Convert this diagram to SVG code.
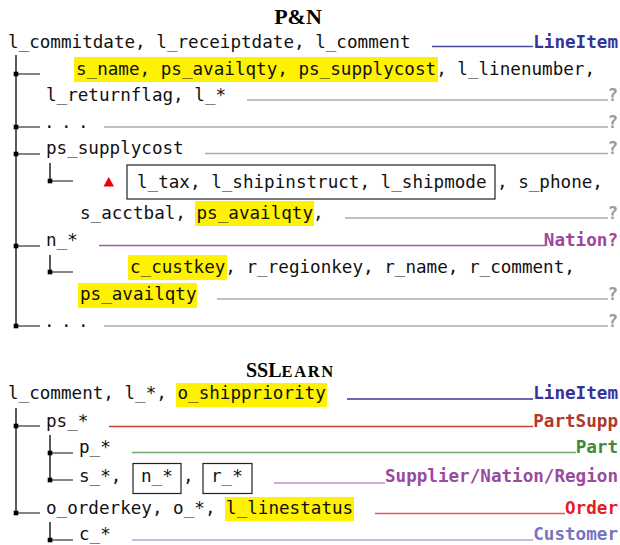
<svg xmlns="http://www.w3.org/2000/svg" width="620" height="545" viewBox="0 0 620 545">
  <style>
    .title { font-family: "Liberation Serif", "Times New Roman", serif; font-weight: bold; fill: #000; }
    .t { font-family: "DejaVu Sans Mono", "Liberation Mono", monospace; font-size: 17.6px; fill: #111; }
    .lbl { font-family: "DejaVu Sans Mono", "Liberation Mono", monospace; font-size: 17.6px; font-weight: bold; text-anchor: end; }
    .hl { fill: #fff200; }
    .box { fill: none; stroke: #222; stroke-width: 1.2; }
    .tree { stroke: #000; stroke-width: 1.3; fill: none; }
    .br { stroke: #222; stroke-width: 1.1; fill: none; }
    .dot { fill: #000; }
    .ln { stroke-width: 1.3; fill: none; }
    .gray { stroke: #aaaaaa; }
    .q { fill: #9a9a9a; }
  </style>

  <!-- ===== P&N ===== -->
  <text class="title" x="298" y="24" font-size="22" text-anchor="middle">P&amp;N</text>

  <g id="pn-root">
    <text class="t" x="8" y="48">l_commitdate, l_receiptdate, l_comment</text>
    <text class="lbl" x="618" y="48" fill="#34349a">LineItem</text>
  </g>

  <g id="pn-tree">
    <line class="tree" x1="16" y1="55" x2="16" y2="327"/>
    <line class="br" x1="16" y1="74" x2="40" y2="74"/>
    <rect class="dot" x="13.7" y="71.7" width="4.6" height="4.6"/>
    <line class="br" x1="16" y1="127" x2="40" y2="127"/>
    <rect class="dot" x="13.7" y="124.7" width="4.6" height="4.6"/>
    <line class="br" x1="16" y1="154" x2="40" y2="154"/>
    <rect class="dot" x="13.7" y="151.7" width="4.6" height="4.6"/>
    <line class="br" x1="16" y1="246" x2="40" y2="246"/>
    <rect class="dot" x="13.7" y="243.7" width="4.6" height="4.6"/>
    <line class="br" x1="16" y1="326" x2="40" y2="326"/>
    <rect class="dot" x="13.7" y="323.7" width="4.6" height="4.6"/>
    <!-- sub-branches -->
    <line class="tree" x1="50" y1="163" x2="50" y2="181"/>
    <line class="br" x1="50" y1="181" x2="73" y2="181"/>
    <rect class="dot" x="47.7" y="178.7" width="4.6" height="4.6"/>
    <line class="tree" x1="50" y1="255" x2="50" y2="272"/>
    <line class="br" x1="50" y1="272" x2="73" y2="272"/>
    <rect class="dot" x="47.7" y="269.7" width="4.6" height="4.6"/>
  </g>

  <g id="pn-lineitem">
    <rect class="hl" x="74" y="57" width="364" height="25"/>
    <text class="t" x="76" y="75">s_name, ps_availqty, ps_supplycost, l_linenumber,</text>
    <text class="t" x="46" y="101">l_returnflag, l_*</text>
    <text class="lbl q" x="618" y="101">?</text>
  </g>

  <g id="pn-dots-1">
    <text class="t" x="44" y="128" letter-spacing="6.4">...</text>
    <text class="lbl q" x="618" y="128">?</text>
  </g>

  <g id="pn-supplycost">
    <text class="t" x="46" y="154">ps_supplycost</text>
    <text class="lbl q" x="618" y="154">?</text>
  </g>

  <g id="pn-tax">
    <polygon points="103.5,186.5 114,186.5 108.7,177" fill="#ee0000"/>
    <rect class="box" x="127" y="165" width="368" height="34"/>
    <text class="t" x="137" y="188">l_tax, l_shipinstruct, l_shipmode</text>
    <text class="t" x="497" y="188">, s_phone,</text>
    <rect class="hl" x="195" y="201" width="119" height="25"/>
    <text class="t" x="80" y="219">s_acctbal, ps_availqty,</text>
    <text class="lbl q" x="618" y="219">?</text>
  </g>

  <g id="pn-nation">
    <text class="t" x="46" y="246">n_*</text>
    <text class="lbl" x="618" y="246" fill="#9a489e">Nation?</text>
  </g>

  <g id="pn-custkey">
    <rect class="hl" x="128" y="255" width="99" height="25"/>
    <text class="t" x="130" y="273">c_custkey, r_regionkey, r_name, r_comment,</text>
    <rect class="hl" x="78" y="283" width="119" height="25"/>
    <text class="t" x="80" y="300">ps_availqty</text>
    <text class="lbl q" x="618" y="300">?</text>
  </g>

  <g id="pn-dots-2">
    <text class="t" x="44" y="327" letter-spacing="6.4">...</text>
    <text class="lbl q" x="618" y="327">?</text>
  </g>

  <!-- ===== SSLearn ===== -->
  <text class="title" x="246" y="377" font-size="20">SSL<tspan font-size="16.5" letter-spacing="1.6">EARN</tspan></text>

  <g id="ss-root">
    <rect class="hl" x="176" y="383" width="151" height="24"/>
    <text class="t" x="8" y="399">l_comment, l_*, o_shippriority</text>
    <text class="lbl" x="618" y="399" fill="#34349a">LineItem</text>
  </g>

  <g id="ss-tree">
    <line class="tree" x1="16" y1="408" x2="16" y2="513"/>
    <line class="br" x1="16" y1="426" x2="40" y2="426"/>
    <rect class="dot" x="13.7" y="423.7" width="4.6" height="4.6"/>
    <line class="br" x1="16" y1="513" x2="40" y2="513"/>
    <rect class="dot" x="13.7" y="510.7" width="4.6" height="4.6"/>
    <line class="tree" x1="50" y1="435" x2="50" y2="481"/>
    <line class="br" x1="50" y1="453" x2="73" y2="453"/>
    <rect class="dot" x="47.7" y="450.7" width="4.6" height="4.6"/>
    <line class="br" x1="50" y1="480" x2="73" y2="480"/>
    <rect class="dot" x="47.7" y="477.7" width="4.6" height="4.6"/>
    <line class="tree" x1="50" y1="522" x2="50" y2="540"/>
    <line class="br" x1="50" y1="540" x2="73" y2="540"/>
    <rect class="dot" x="47.7" y="537.7" width="4.6" height="4.6"/>
  </g>

  <g id="ss-partsupp">
    <text class="t" x="46" y="427">ps_*</text>
    <text class="lbl" x="618" y="427" fill="#b3362b">PartSupp</text>
  </g>

  <g id="ss-part">
    <text class="t" x="79" y="453">p_*</text>
    <text class="lbl" x="618" y="453" fill="#3c8a3c">Part</text>
  </g>

  <g id="ss-supplier">
    <text class="t" x="79" y="482">s_*,</text>
    <rect class="box" x="133" y="463.5" width="48" height="30"/>
    <text class="t" x="141" y="482">n_*</text>
    <text class="t" x="183" y="482">,</text>
    <rect class="box" x="203" y="463.5" width="49" height="30"/>
    <text class="t" x="211" y="482">r_*</text>
    <text class="lbl" x="618" y="482" fill="#9a4aa0">Supplier/Nation/Region</text>
  </g>

  <g id="ss-order">
    <rect class="hl" x="225" y="497" width="129" height="24"/>
    <text class="t" x="46" y="514">o_orderkey, o_*, l_linestatus</text>
    <text class="lbl" x="618" y="514" fill="#e81c24">Order</text>
  </g>

  <g id="ss-customer">
    <text class="t" x="79" y="540">c_*</text>
    <text class="lbl" x="618" y="540" fill="#7474bf">Customer</text>
  </g>

  <!-- leader lines from each row to its table label -->
  <g id="connectors">
    <line class="ln" x1="432" y1="46.5" x2="533" y2="46.5" stroke="#4a4aa0"/>
    <line class="ln gray" x1="247" y1="100" x2="608" y2="100"/>
    <line class="ln gray" x1="104" y1="127" x2="608" y2="127"/>
    <line class="ln gray" x1="205" y1="153.5" x2="608" y2="153.5"/>
    <line class="ln gray" x1="345" y1="218" x2="608" y2="218"/>
    <line class="ln" x1="99" y1="245.5" x2="545" y2="245.5" stroke="#a458a8"/>
    <line class="ln gray" x1="217" y1="299" x2="608" y2="299"/>
    <line class="ln gray" x1="104" y1="326" x2="608" y2="326"/>

    <line class="ln" x1="347" y1="399" x2="533" y2="399" stroke="#3a3a9c"/>
    <line class="ln" x1="109" y1="426.5" x2="533" y2="426.5" stroke="#c0463a"/>
    <line class="ln" x1="132" y1="452.5" x2="576" y2="452.5" stroke="#72a872"/>
    <line class="ln" x1="274" y1="483" x2="385" y2="483" stroke="#c88ed0"/>
    <line class="ln" x1="375" y1="513.5" x2="565" y2="513.5" stroke="#e8505a"/>
    <line class="ln" x1="132" y1="540" x2="533" y2="540" stroke="#a8a8d8"/>
  </g>
</svg>
